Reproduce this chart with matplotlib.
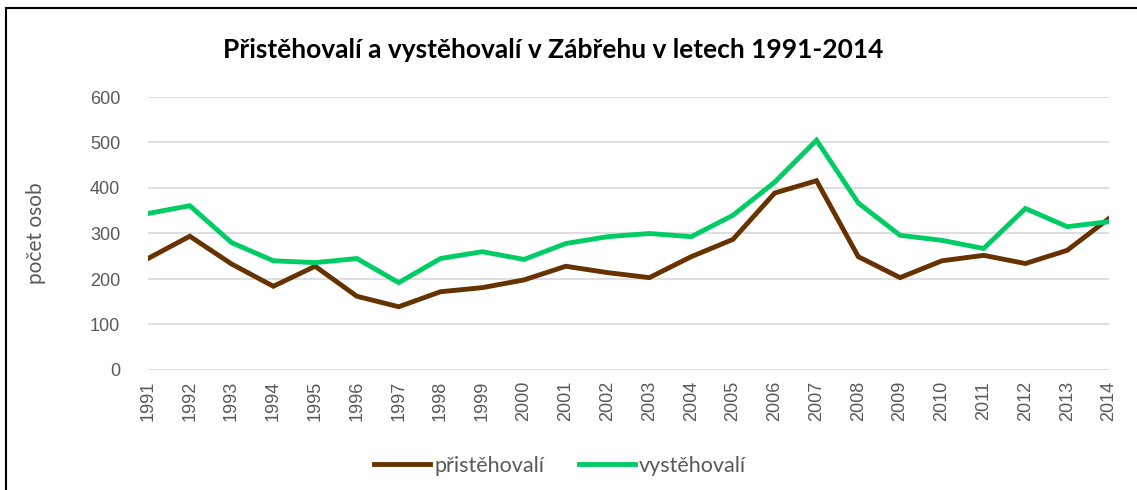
import matplotlib
matplotlib.use("Agg")
import matplotlib.pyplot as plt
from matplotlib.lines import Line2D

years = list(range(1991, 2015))
pristehovali = [245, 294, 233, 184, 228, 162, 139, 172, 181, 198, 228, 214,
                203, 249, 287, 389, 416, 249, 203, 240, 252, 234, 263, 333]
vystehovali = [344, 361, 280, 240, 236, 245, 192, 245, 260, 243, 278, 293,
               300, 293, 340, 413, 505, 367, 296, 285, 267, 355, 315, 326]

W, H = 1137, 490
fig = plt.figure(figsize=(W / 100, H / 100), dpi=100)
ax = fig.add_axes([148 / W, 1 - 370 / H, (1109 - 148) / W, (370 - 97) / H])

ax.plot(years, pristehovali, color="#663300", lw=3.5, label="přistěhovalí",
        solid_joinstyle="miter", zorder=3)
ax.plot(years, vystehovali, color="#00CC66", lw=3.5, label="vystěhovalí",
        solid_joinstyle="miter", zorder=3)

ax.set_xlim(1991, 2014)
ax.set_ylim(0, 600)
ax.set_yticks(range(0, 601, 100))
ax.set_xticks(years)
ax.set_xticklabels([str(y) for y in years], rotation=90)
ax.tick_params(axis="both", length=0, colors="#595959", labelsize=13)
ax.tick_params(axis="y", pad=20)
ax.tick_params(axis="x", pad=8)
for lab in ax.get_xticklabels() + ax.get_yticklabels():
    lab.set_family("Liberation Sans")
ax.grid(axis="y", color="#D9D9D9", lw=1.2)
ax.set_axisbelow(True)
for s in ax.spines.values():
    s.set_visible(False)

ax.set_ylabel("počet osob", family="Lato", fontsize=15, color="#595959")
ax.yaxis.set_label_coords(-0.106, 0.5)

fig.text(553 / W, 1 - 50 / H, "Přistěhovalí a vystěhovalí v Zábřehu v letech 1991-2014",
         family="Lato", fontweight="bold", fontsize=19, ha="center", va="center")

leg = ax.legend(loc="center", bbox_to_anchor=(560 / W, 1 - 466 / H),
                bbox_transform=fig.transFigure, ncol=2, frameon=False,
                handlelength=2.6, handletextpad=0.2, columnspacing=1.6,
                prop={"family": "Lato", "size": 15.5})
for t in leg.get_texts():
    t.set_color("#595959")

# chart border (left and top edges visible)
fig.add_artist(Line2D([6 / W, 6 / W], [0, 1 - 8 / H], transform=fig.transFigure,
                      color="black", lw=1.5))
fig.add_artist(Line2D([6 / W, 1], [1 - 8 / H, 1 - 8 / H], transform=fig.transFigure,
                      color="black", lw=1.5))

fig.savefig("out.png", dpi=100)
